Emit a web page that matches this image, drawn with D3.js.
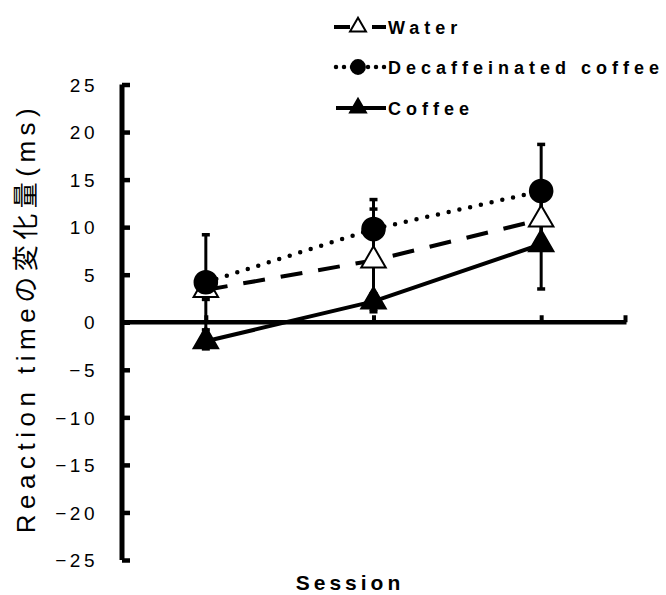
<!DOCTYPE html>
<html>
<head>
<meta charset="utf-8">
<script src="https://cdn.jsdelivr.net/npm/d3@7"></script>
<style>
  body { margin: 0; background: #fff; }
  text { font-family: "Liberation Sans", Arial, "Noto Sans CJK JP", sans-serif; fill: #000; }
</style>
</head>
<body>
<div id="chart-area"></div>
<script>
// Data
var sessions = [1, 2, 3];
var waterMean = [3.4, 6.5, 10.8];
var waterErr = [1.0, 5.4, 2.0];
var decafMean = [4.2, 9.8, 13.8];
var decafErr = [5.0, 3.1, 4.9];
var coffeeMean = [-2.0, 2.2, 8.2];
var coffeeErr = [0.8, 0.8, 4.7];
var yTicks = [-25, -20, -15, -10, -5, 0, 5, 10, 15, 20, 25];

var width = 666, height = 595;

var svg = d3.select("#chart-area").append("svg")
  .attr("width", width)
  .attr("height", height);

// Scales
var x = d3.scaleLinear().domain([0.5, 3.5]).range([122, 625]);
var y = d3.scaleLinear().domain([-25, 25]).range([560, 84.5]);

var series = [
  { name: "Water", mean: waterMean, err: waterErr, dash: "22,16", cap: "butt", shape: "triangle", fill: "#fff" },
  { name: "Decaffeinated coffee", mean: decafMean, err: decafErr, dash: "0,11", cap: "round", shape: "circle", fill: "#000" },
  { name: "Coffee", mean: coffeeMean, err: coffeeErr, dash: null, cap: "butt", shape: "triangle", fill: "#000" }
];

// Y axis
var yAxis = svg.append("g")
  .attr("transform", "translate(" + x(0.5) + ",0)")
  .call(d3.axisLeft(y).tickValues(yTicks).tickSize(-8).tickPadding(24).tickFormat(d3.format("d")));
yAxis.select(".domain").attr("stroke", "#000").attr("stroke-width", 5)
  .attr("d", "M0," + y(-25) + "V" + y(25));
yAxis.selectAll(".tick line").attr("stroke", "#000").attr("stroke-width", 4.5);
yAxis.selectAll(".tick text")
  .attr("font-size", "19px")
  .attr("letter-spacing", "3.5px")
  .attr("dy", "0.35em");

// X axis at zero
var xAxis = svg.append("g")
  .attr("transform", "translate(0," + y(0) + ")")
  .call(d3.axisBottom(x).tickValues([1, 2, 3, 3.5]).tickSize(-7).tickFormat(""));
xAxis.select(".domain").attr("stroke", "#000").attr("stroke-width", 4.5)
  .attr("d", "M" + x(0.5) + ",0H" + (x(3.5) + 1.5));
xAxis.selectAll(".tick line").attr("stroke", "#000").attr("stroke-width", 4);

// Axis titles
svg.append("text")
  .attr("transform", "translate(35," + 318 + ") rotate(-90)")
  .attr("text-anchor", "middle")
  .attr("font-size", "26px")
  .attr("letter-spacing", "5.5px")
  .text("Reaction timeの変化量(ms)");

svg.append("text")
  .attr("x", 350)
  .attr("y", 590)
  .attr("text-anchor", "middle")
  .attr("font-size", "21px")
  .attr("font-weight", "bold")
  .attr("letter-spacing", "4px")
  .text("Session");

// Error bars
series.forEach(function(s) {
  var g = svg.append("g").attr("class", "err");
  sessions.forEach(function(d, i) {
    var top = y(s.mean[i] + s.err[i]), bot = y(s.mean[i] - s.err[i]);
    g.append("line")
      .attr("x1", x(d)).attr("x2", x(d))
      .attr("y1", top).attr("y2", bot)
      .attr("stroke", "#000").attr("stroke-width", 3);
    [top, bot].forEach(function(v) {
      g.append("line")
        .attr("x1", x(d) - 4).attr("x2", x(d) + 4)
        .attr("y1", v).attr("y2", v)
        .attr("stroke", "#000").attr("stroke-width", 3.5);
    });
  });
});

// Lines
var line = d3.line()
  .x(function(d, i) { return x(sessions[i]); })
  .y(function(d) { return y(d); });

series.forEach(function(s) {
  svg.append("path")
    .attr("d", line(s.mean))
    .attr("fill", "none")
    .attr("stroke", "#000")
    .attr("stroke-width", s.cap === "round" ? 4.5 : 4)
    .attr("stroke-linecap", s.cap)
    .attr("stroke-dasharray", s.dash);
});

// Markers
var triSym = d3.symbol().type(d3.symbolTriangle).size(260);
var circSym = d3.symbol().type(d3.symbolCircle).size(400);

series.forEach(function(s) {
  var g = svg.append("g");
  sessions.forEach(function(d, i) {
    g.append("path")
      .attr("d", s.shape === "circle" ? circSym() : triSym())
      .attr("transform", "translate(" + x(d) + "," + y(s.mean[i]) + ")")
      .attr("fill", s.fill)
      .attr("stroke", "#000")
      .attr("stroke-width", 2);
  });
});

// Legend
var legendRows = [27, 67, 108];
series.forEach(function(s, i) {
  var ly = legendRows[i];
  var g = svg.append("g");
  if (s.name === "Water") {
    g.append("line").attr("x1", 334).attr("x2", 350).attr("y1", ly).attr("y2", ly)
      .attr("stroke", "#000").attr("stroke-width", 4);
    g.append("line").attr("x1", 372).attr("x2", 386).attr("y1", ly).attr("y2", ly)
      .attr("stroke", "#000").attr("stroke-width", 4);
  } else {
    g.append("line").attr("x1", 336).attr("x2", 386).attr("y1", ly).attr("y2", ly)
      .attr("stroke", "#000").attr("stroke-width", s.cap === "round" ? 4.5 : 4)
      .attr("stroke-linecap", s.cap)
      .attr("stroke-dasharray", s.dash ? "0,8" : null);
  }
  g.append("path")
    .attr("d", s.shape === "circle" ? d3.symbol().type(d3.symbolCircle).size(150)() : d3.symbol().type(d3.symbolTriangle).size(110)())
    .attr("transform", "translate(358," + ly + ")")
    .attr("fill", s.fill)
    .attr("stroke", "#000")
    .attr("stroke-width", 2);
  g.append("text")
    .attr("x", 388)
    .attr("y", ly + 6.5)
    .attr("font-size", "18px")
    .attr("font-weight", "bold")
    .attr("letter-spacing", "5px")
    .text(s.name);
});
</script>
</body>
</html>
